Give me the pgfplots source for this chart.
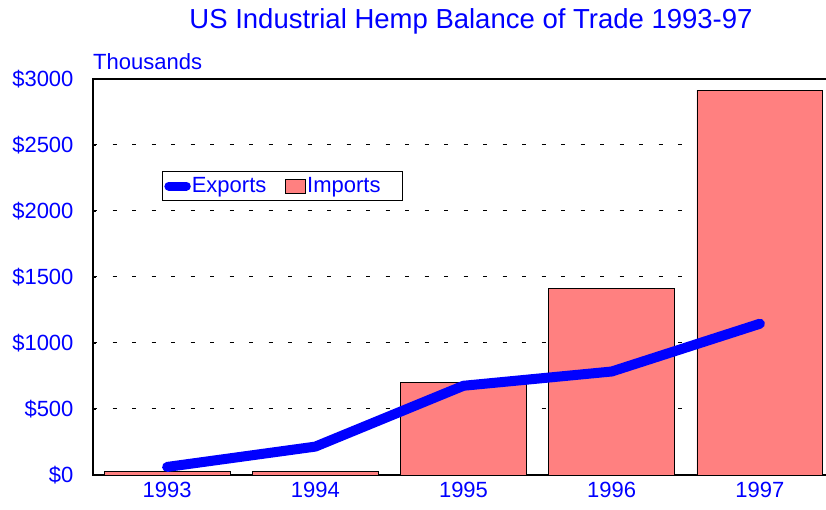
\documentclass[border=0pt]{standalone}
\usepackage{pgfplots}
\pgfplotsset{compat=1.18}
\usepackage{fontspec}
\setmainfont{Liberation Sans}
\definecolor{hempblue}{RGB}{0,0,255}
\definecolor{imppink}{RGB}{255,128,128}
\begin{document}
\begin{tikzpicture}[x=1pt,y=1pt]
\useasboundingbox (0,0) rectangle (826,510);
\begin{axis}[
    at={(93pt,35pt)}, anchor=south west,
    scale only axis, width=741pt, height=396pt,
    xmin=-0.5, xmax=4.5, ymin=0, ymax=3000,
    xtick={0,1,2,3,4},
    xticklabels={1993,1994,1995,1996,1997},
    ytick={0,500,1000,1500,2000,2500,3000},
    yticklabels={\$0,\$500,\$1000,\$1500,\$2000,\$2500,\$3000},
    tick label style={font=\fontsize{22}{26}\selectfont, text=hempblue},
    yticklabel style={xshift=-16pt},
    xticklabel style={yshift=-4pt},
    tick align=inside, major tick length=3pt,
    xtick style={draw=none},
    ytick style={black, line width=0.8pt},
    ymajorgrids,
    grid style={black, dash pattern=on 4pt off 15.5pt, line width=1pt},
    axis line style={black, line width=1.2pt},
    legend style={at={(0.093,0.768)}, anchor=north west, draw=black,
      line width=0.8pt, font=\fontsize{22}{24}\selectfont, text=hempblue,
      inner xsep=2pt, inner ysep=4.5pt, legend columns=2,
      nodes={inner xsep=1pt, inner ysep=2pt},
      /tikz/every even column/.append style={column sep=18pt}},
  ]
  % imports
  \addplot[ybar, bar width=0.85, fill=imppink, draw=black, line width=0.8pt, forget plot]
    coordinates {(0,25) (1,28) (2,700) (3,1415) (4,2915)};
  % exports
  \addplot[hempblue, line width=10pt, line cap=round, line join=round, mark=none,
    legend image code/.code={\draw[hempblue, line width=9pt, line cap=round] (4.5pt,0pt) -- (22pt,0pt);}]
    coordinates {(0,61) (1,215) (2,676) (3,784) (4,1146)};
  \addlegendentry{Exports}
  \addlegendimage{legend image code/.code={\draw[fill=imppink, draw=black, line width=0.8pt] (0pt,-7pt) rectangle (20pt,7pt);}}
  \addlegendentry{Imports\rule{19pt}{0pt}}
\end{axis}
\node[font=\fontsize{27.5}{32}\selectfont, text=hempblue] at (471,489) {US Industrial Hemp Balance of Trade 1993-97};
\node[anchor=base west, inner sep=0pt, font=\fontsize{22}{26}\selectfont, text=hempblue] at (93,440) {Thousands};
\end{tikzpicture}
\end{document}
